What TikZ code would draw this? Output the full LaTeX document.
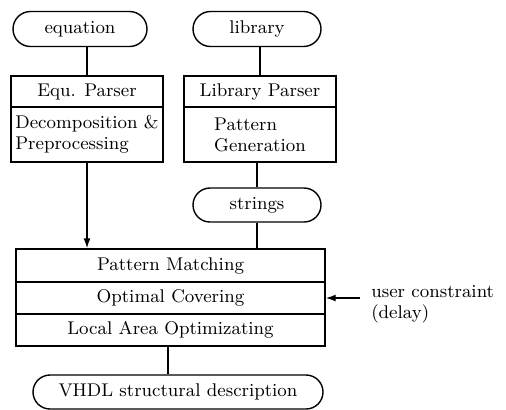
\documentclass[tikz,border=0pt]{standalone}
\usetikzlibrary{shapes.misc, arrows.meta}
\begin{document}
\begin{tikzpicture}[x=0.5pt, y=-0.5pt, line width=0.7pt,
		font=\fontsize{9.2}{10.5}\selectfont,
		term/.style={draw, rounded rectangle, inner sep=0pt, minimum height=17.5pt},
		stage/.style={draw, rectangle, inner sep=0pt, align=center, minimum width=76pt},
		row/.style={draw, rectangle, inner sep=0pt, minimum width=154.5pt, minimum height=16pt}]
			\useasboundingbox (0,0) rectangle (506,409);
			
			\node [term, minimum width=67pt] (eq) at (80,29) {equation};
			\node [term, minimum width=64pt] (lib) at (257,29) {library};
			
			\node [stage, minimum height=15.5pt] (eqp) at (87,91.5) {Equ. Parser};
			\node [stage, minimum height=27.5pt, align=left] (eqd) at (87,134.5) {Decomposition \&\\ Preprocessing};
			\node [stage, minimum height=15.5pt] (libp) at (260,91.5) {Library Parser};
			\node [stage, minimum height=27.5pt, align=left] (libg) at (260,134.5) {Pattern\\ Generation};
			
			\node [term, minimum width=64pt, minimum height=17pt] (str) at (257,205) {strings};
			
			\node [row, minimum height=16.5pt] (match) at (170.5,265.5) {Pattern Matching};
			\node [row] (cover) at (170.5,298) {Optimal Covering};
			\node [row] (local) at (170.5,330) {Local Area Optimizating};
			
			\node [term, minimum width=145pt, minimum height=17pt] (vhdl) at (178,392) {VHDL structural description};
			
			\coordinate (uc) at (360,298);
			\coordinate (lv) at (168,346);
			\node [anchor=west, align=left] (ucl) at (364,304) {user constraint\\(delay)};
			
			\draw (eqp.north) -- (eqp.north |- eq.south);
			\draw (libp.north) -- (libp.north |- lib.south);
			\draw (str.north) -- (str.north |- libg.south);
			\draw (str.south) -- (str.south |- match.north);
			\draw [-{Latex[length=5pt, width=3.5pt]}] (eqd.south) -- (eqd.south |- match.north);
			\draw [-{Latex[length=5pt, width=3.5pt]}] (uc) -- (cover.east);
			\draw (lv) -- (lv |- vhdl.north);
		\end{tikzpicture}
\end{document}
